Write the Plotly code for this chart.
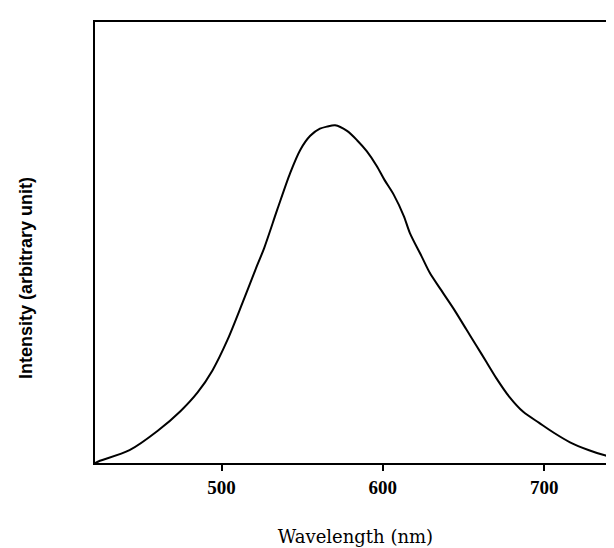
import plotly.graph_objects as go

wavelength = [421.6, 424.0, 443.0, 460.5, 474.7, 485.2, 494.4, 503.7, 513.0, 521.0, 526.5,
              534.6, 542.6, 548.8, 555.0, 561.0, 565.5, 570.4, 577.8, 584.0, 590.0, 596.3,
              601.0, 606.8, 613.0, 616.7, 624.1, 629.0, 635.2, 643.8, 651.9, 658.0, 664.2,
              670.4, 678.4, 687.0, 696.9, 706.2, 716.0, 727.8, 737.0, 744.0]
intensity = [0.0, 0.004, 0.029, 0.073, 0.118, 0.160, 0.210, 0.279, 0.363, 0.438, 0.488,
             0.575, 0.658, 0.710, 0.742, 0.758, 0.763, 0.766, 0.753, 0.732, 0.707, 0.673,
             0.642, 0.608, 0.560, 0.522, 0.468, 0.432, 0.397, 0.350, 0.302, 0.266, 0.229,
             0.192, 0.150, 0.116, 0.091, 0.068, 0.047, 0.029, 0.018, 0.012]

tick_vals = [500, 600, 700]
tick_text = ["500", "600", "700"]

fig = go.Figure()
fig.add_trace(go.Scatter(x=wavelength, y=intensity, mode="lines",
                         line=dict(color="black", width=2, shape="spline", smoothing=0.8),
                         showlegend=False, hoverinfo="skip"))

fig.update_layout(
    width=614, height=548,
    margin=dict(l=87, r=4, t=14, b=93),
    paper_bgcolor="white", plot_bgcolor="white",
    xaxis=dict(range=[421.6, 744.5], tickvals=tick_vals, ticktext=tick_text,
               ticks="outside", ticklen=6, tickwidth=1.5, tickcolor="black",
               showline=True, linecolor="black", linewidth=2, mirror=True,
               showgrid=False, zeroline=False,
               tickfont=dict(family="Liberation Serif", size=19, color="black", weight="bold"),
               title=dict(text="Wavelength (nm)", standoff=34,
                          font=dict(family="DejaVu Serif", size=18, color="black"))),
    yaxis=dict(range=[0, 1.0], showticklabels=False, ticks="",
               showline=True, linecolor="black", linewidth=2, mirror=True,
               showgrid=False, zeroline=False),
    annotations=[dict(text="<b>Intensity (arbitrary unit)</b>", textangle=-90,
                      xref="paper", yref="paper", x=0, y=0.4195,
                      xanchor="center", yanchor="middle", xshift=-69, showarrow=False,
                      font=dict(family="Liberation Sans", size=18, color="black"))],
)

fig.write_html("out.html")
